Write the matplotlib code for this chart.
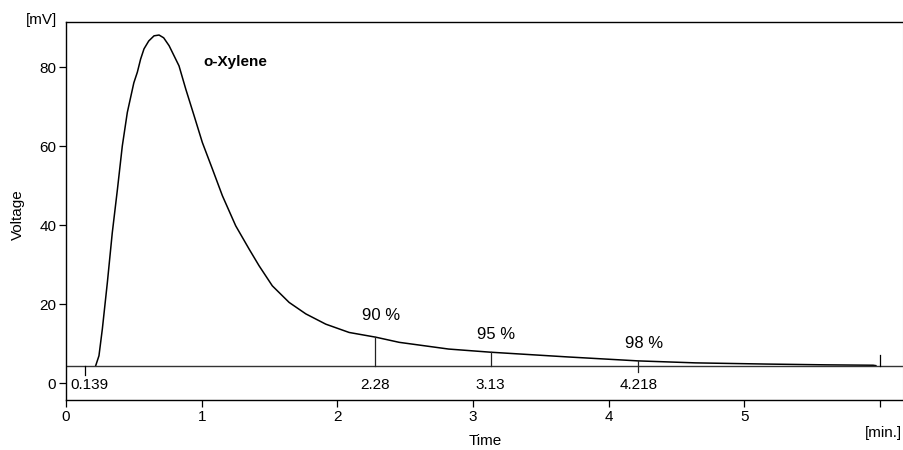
import numpy as np
import matplotlib
matplotlib.use("Agg")
import matplotlib.pyplot as plt

plt.rcParams['font.family'] = ['Liberation Sans', 'DejaVu Sans']

# chromatogram trace
time = [0.219, 0.243, 0.268, 0.305, 0.341, 0.379, 0.415, 0.452, 0.50, 0.526,
        0.55, 0.575, 0.61, 0.649, 0.686, 0.72, 0.76, 0.833, 0.883, 0.944, 1.005, 1.079,
        1.153, 1.251, 1.35, 1.423, 1.521, 1.645, 1.768, 1.915, 2.087, 2.284,
        2.456, 2.82, 3.13, 3.7, 4.218, 4.64, 5.16, 5.6, 5.95, 5.97]
voltage = [4.4, 6.9, 13.7, 25.5, 38.0, 49.0, 60.0, 68.5, 76.0, 78.7,
           82.0, 84.6, 86.6, 87.9, 88.1, 87.4, 85.4, 80.3, 74.4, 67.7, 60.9, 54.2,
           47.4, 39.8, 33.9, 29.7, 24.6, 20.4, 17.5, 14.9, 12.8, 11.6,
           10.3, 8.6, 7.8, 6.6, 5.6, 5.1, 4.8, 4.6, 4.5, 4.4]

baseline = 4.4
start_time = 0.139
end_time = 6.0
mark_times = [2.28, 3.13, 4.218]
mark_labels = ["90 %", "95 %", "98 %"]
mark_text = ["2.28", "3.13", "4.218"]
pct_y = [17.0, 12.4, 10.1]

fig = plt.figure(figsize=(9.04, 4.5), dpi=100)
ax = fig.add_axes([66 / 904, 50 / 450, 837 / 904, 378 / 450])

ax.plot(time, voltage, color='black', lw=1.1)
ax.axhline(baseline, color='#333333', lw=1.0)

# start / end markers on baseline
ax.plot([start_time, start_time], [baseline, baseline - 2.4], color='black', lw=0.9)
ax.plot([end_time, end_time], [baseline, baseline + 2.8], color='black', lw=0.9)
ax.text(start_time - 0.11, -0.6, "0.139", ha='left', va='center', fontsize=11)

# percentage markers
for t, lab, txt, py in zip(mark_times, mark_labels, mark_text, pct_y):
    top = np.interp(t, time, voltage)
    bot = baseline - 1.5 if lab == "98 %" else baseline
    ax.plot([t, t], [bot, top], color='#222222', lw=0.9)
    ax.text(t + 0.04, py, lab, ha='center', va='center', fontsize=12)
    ax.text(t, -0.6, txt, ha='center', va='center', fontsize=11)

ax.text(1.01, 81.3, "o-Xylene", fontweight='bold', fontsize=11, va='center')

ax.set_xlim(0, 6.17)
ax.set_ylim(-4.3, 91.4)
ax.set_xticks([0, 1, 2, 3, 4, 5, 6])
ax.set_xticklabels(["0", "1", "2", "3", "4", "5", ""])
ax.set_yticks([0, 20, 40, 60, 80])
ax.tick_params(direction='out', length=5, width=0.9, labelsize=11, pad=2, colors='black')

for s in ['left', 'top', 'bottom']:
    ax.spines[s].set_linewidth(1.0)
    ax.spines[s].set_color('black')
ax.spines['right'].set_color('#c8c8c8')
ax.spines['right'].set_linewidth(0.8)

fig.text(57 / 904, 1 - 20 / 450, "[mV]", ha='right', va='center', fontsize=11)
fig.text(18 / 904, 1 - 215 / 450, "Voltage", rotation=90, ha='center', va='center', fontsize=11)
fig.text(485 / 904, 1 - 441 / 450, "Time", ha='center', va='center', fontsize=11)
fig.text(902 / 904, 1 - 433 / 450, "[min.]", ha='right', va='center', fontsize=11)

fig.savefig("out.png", dpi=100)
